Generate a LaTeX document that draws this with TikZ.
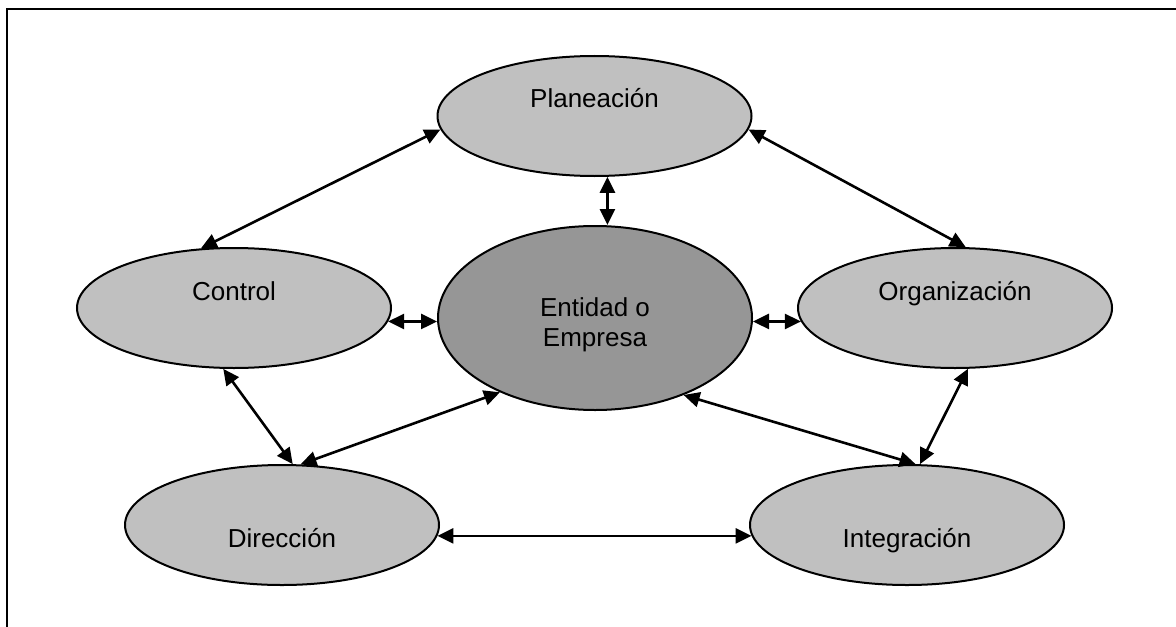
\documentclass[tikz,border=0pt]{standalone}
\usepackage{fontspec}
\setmainfont{Liberation Sans}
\usetikzlibrary{arrows.meta,shapes.geometric}
\definecolor{phasegray}{RGB}{192,192,192}
\definecolor{coregray}{RGB}{150,150,150}
\begin{document}
\begin{tikzpicture}[x=0.5pt,y=-0.5pt,
  phase/.style={ellipse,draw,line width=1pt,fill=phasegray,inner sep=0pt,
    minimum width=157pt,minimum height=60pt},
  core/.style={phase,fill=coregray,minimum height=92pt},
  link/.style={line width=1.3pt,
    {Triangle[length=8pt,width=7.5pt]}-{Triangle[length=8pt,width=7.5pt]}},
  lbl/.style={font=\fontsize{13}{15}\selectfont,anchor=base,inner sep=0pt,align=center}]
\path[use as bounding box] (0,0) rectangle (1176,626);
\clip (0,0) rectangle (1176,626);
% frame
\draw[line width=1pt] (7,9) rectangle (1200,660);

% process stages
\node[phase] (pla) at (594.5,116) {};
\node[phase] (ctl) at (234,308) {};
\node[core]  (ent) at (595,318) {};
\node[phase] (org) at (955,308) {};
\node[phase] (dir) at (282,525) {};
\node[phase] (int) at (907,525) {};

% stage names (base anchor of the two-line name is its last line)
\node[lbl] (plaT) at ([yshift=4.5pt]pla.center) {Planeación};
\node[lbl] (ctlT) at ([yshift=4pt]ctl.center) {Control};
\node[lbl] (entT) at ([yshift=-14pt]ent.center) {Entidad o\\Empresa};
\node[lbl] (orgT) at ([yshift=4pt]org.center) {Organización};
\node[lbl] (dirT) at ([yshift=-11pt]dir.center) {Dirección};
\node[lbl] (intT) at ([yshift=-11pt]int.center) {Integración};

% relations
\draw[link] (pla.-78) -- (pla.-78 |- ent.north);
\draw[link] (ctl.-5) -- (ctl.-5 -| ent.west);
\draw[link] (ent.east |- org.185) -- (org.185);
\draw[link] (pla.185) -- (ctl.119);
\draw[link] (pla.-5) -- (org.80);
\draw[link] (ctl.260) -- (dir.80);
\draw[link] (ent.218) -- (dir.73);
\draw[link] (ent.-41.5) -- (int.82);
\draw[link] (org.-78) -- (int.78);
\draw[link] (dir.-4.5) -- (int.184.5);
\end{tikzpicture}
\end{document}
